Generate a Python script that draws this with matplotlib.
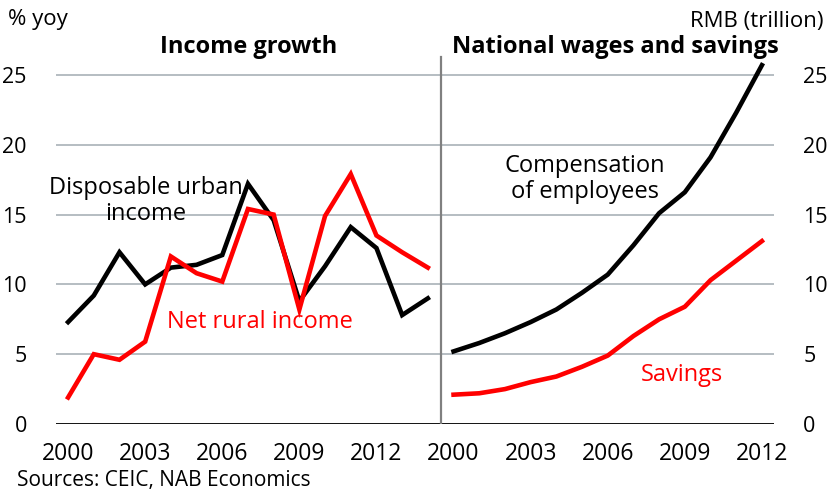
import matplotlib
matplotlib.use("Agg")
import matplotlib.pyplot as plt
import numpy as np

plt.rcParams['font.family'] = ['Open Sans', 'DejaVu Sans']

# Left panel: income growth (% yoy)
left_years = list(range(2000, 2015))
urban_income = [7.3, 9.2, 12.3, 10.0, 11.2, 11.4, 12.1, 17.2, 14.6, 8.8, 11.3, 14.1, 12.6, 7.8, 9.0]
rural_income = [1.9, 5.0, 4.6, 5.9, 12.0, 10.8, 10.2, 15.4, 15.0, 8.2, 14.9, 17.9, 13.5, 12.3, 11.2]

# Right panel: national wages and savings (RMB trillion)
right_years = list(range(2000, 2013))
compensation = [5.2, 5.8, 6.5, 7.3, 8.2, 9.4, 10.7, 12.8, 15.1, 16.6, 19.1, 22.3, 25.7]
savings = [2.1, 2.2, 2.5, 3.0, 3.4, 4.1, 4.9, 6.3, 7.5, 8.4, 10.3, 11.7, 13.1]

tick_years = [2000, 2003, 2006, 2009, 2012]
yticks = [0, 5, 10, 15, 20, 25]

fig = plt.figure(figsize=(8.27, 4.9), dpi=100)
ax = fig.add_axes([56/827, 1-424/490, (774-56)/827, 370/490])

xl = np.array(left_years) - 2000
xr = np.array(right_years) - 2000 + len(left_years)

for y in yticks[1:]:
    ax.axhline(y, color='#a9b1b8', lw=1.2, zorder=1)
ax.axhline(0, color='black', lw=1.3, zorder=2)

lw = 3.3
ax.plot(xl, urban_income, color='black', lw=lw, zorder=3, solid_joinstyle='miter')
ax.plot(xl, rural_income, color='#ff0000', lw=lw, zorder=4, solid_joinstyle='miter')
ax.plot(xr, compensation, color='black', lw=lw, zorder=3)
ax.plot(xr, savings, color='#ff0000', lw=lw, zorder=4)

div = len(left_years) - 0.5
ax.plot([div, div], [0, 26.3], color='#808080', lw=1.6, zorder=2)

ax.set_xlim(-0.47, 27.47)
ax.set_ylim(0, 26.5)
for s in ax.spines.values():
    s.set_visible(False)

ax.set_yticks(yticks)
ax.set_yticklabels([str(v) for v in yticks])
ax.tick_params(axis='y', length=0, pad=21, labelsize=15.5, left=True, right=True,
               labelleft=True, labelright=True)
xt = [y - 2000 for y in tick_years] + [y - 2000 + len(left_years) for y in tick_years]
ax.set_xticks(xt)
ax.set_xticklabels([str(y) for y in tick_years] * 2)
ax.tick_params(axis='x', length=0, pad=13, labelsize=16.5)

fs = 17
fig.text(8/827, 1-20/490, '% yoy', fontsize=16, va='center', ha='left')
fig.text(824/827, 1-22/490, 'RMB (trillion)', fontsize=16, va='center', ha='right')
fig.text(249/827, 1-47/490, 'Income growth', fontsize=fs, fontweight='bold', va='center', ha='center')
fig.text(615/827, 1-47/490, 'National wages and savings', fontsize=fs, fontweight='bold', va='center', ha='center')
fig.text(17/827, 1-480/490, 'Sources: CEIC, NAB Economics', fontsize=15, va='center', ha='left')

fig.text(146/827, 1-201/490, 'Disposable urban\nincome', fontsize=fs, va='center', ha='center',
         linespacing=1.1)
fig.text(260/827, 1-322/490, 'Net rural income', fontsize=fs, va='center', ha='center', color='#ff0000')
fig.text(585/827, 1-179/490, 'Compensation\nof employees', fontsize=fs, va='center', ha='center',
         linespacing=1.1)
fig.text(682/827, 1-375/490, 'Savings', fontsize=fs, va='center', ha='center', color='#ff0000')

fig.savefig('out.png', dpi=100)
